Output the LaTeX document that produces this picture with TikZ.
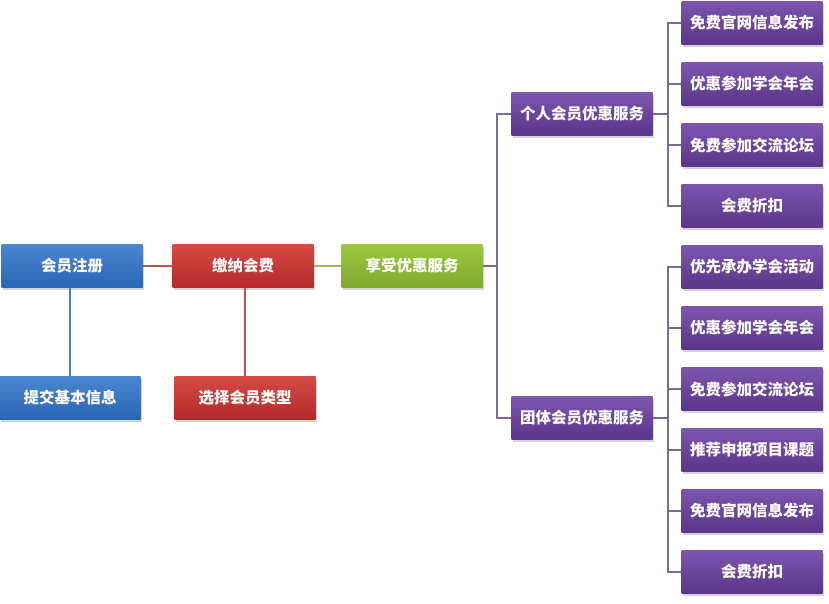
\documentclass[tikz,border=0pt]{standalone}
\usepackage{fontspec}
\setmainfont{Noto Sans CJK SC}
\usepackage[dvipsnames,svgnames,table]{xcolor}
\usepackage{tikz}
\usetikzlibrary{arrows.meta, positioning, shadows, calc}

\definecolor{regblue}{HTML}{2B65B5}
\definecolor{regbluetop}{HTML}{4A86D0}
\definecolor{payred}{HTML}{B42A28}
\definecolor{payredtop}{HTML}{D44A45}
\definecolor{enjoygreen}{HTML}{7FAA2E}
\definecolor{enjoygreentop}{HTML}{9CC63F}
\definecolor{servpurple}{HTML}{5B3589}
\definecolor{servpurpletop}{HTML}{7D55AE}
\definecolor{lineblue}{HTML}{4F81BD}
\definecolor{linered}{HTML}{C0504D}
\definecolor{linegreen}{HTML}{9BBB59}
\definecolor{linepurple}{HTML}{7B6A96}

\begin{document}
\begin{tikzpicture}[
  x=1pt, y=-1pt,
  box/.style={
    minimum width=141pt, minimum height=43pt, inner sep=0pt,
    font=\fontsize{15.5}{18}\selectfont\bfseries, text=white,
    drop shadow={opacity=0.35, shadow xshift=1.5pt, shadow yshift=-2pt}
  },
  blue box/.style={box, top color=regbluetop, bottom color=regblue},
  red box/.style={box, top color=payredtop, bottom color=payred},
  green box/.style={box, top color=enjoygreentop, bottom color=enjoygreen},
  purple box/.style={box, top color=servpurpletop, bottom color=servpurple},
  link/.style={line width=1.3pt}
]
\useasboundingbox (0,0) rectangle (829,603);

% Main flow
\node[blue box] (reg) at (72,266) {会员注册};
\node[red box] (pay) at (243,266) {缴纳会费};
\node[green box] (enjoy) at (412,266) {享受优惠服务};

% Sub steps
\node[blue box] (info) at (70,398) {提交基本信息};
\node[red box] (type) at (245,398) {选择会员类型};

\draw[link, linered] (reg) -- (pay);
\draw[link, linegreen] (pay) -- (enjoy);
\draw[link, lineblue] (reg.south -| info) -- (info);
\draw[link, linered] (pay.south -| type) -- (type);

% Member services
\node[purple box] (single) at (582,114) {个人会员优惠服务};
\node[purple box] (group) at (582,418) {团体会员优惠服务};

\coordinate (hub) at (497,266);
\draw[link, linepurple] (enjoy) -- (hub);
\draw[link, linepurple] (hub) |- (single);
\draw[link, linepurple] (hub) |- (group);

% Individual member items
\node[purple box] (p1) at (752,23) {免费官网信息发布};
\node[purple box] (p2) at (752,84) {优惠参加学会年会};
\node[purple box] (p3) at (752,145) {免费参加交流论坛};
\node[purple box] (p4) at (752,206) {会费折扣};

\coordinate (pbus) at (668,114);
\draw[link, linepurple] (single) -- (pbus);
\foreach \item in {p1,p2,p3,p4}
  \draw[link, linepurple] (pbus) |- (\item);

% Group member items
\node[purple box] (g1) at (752,267) {优先承办学会活动};
\node[purple box] (g2) at (752,328) {优惠参加学会年会};
\node[purple box] (g3) at (752,389) {免费参加交流论坛};
\node[purple box] (g4) at (752,450) {推荐申报项目课题};
\node[purple box] (g5) at (752,511) {免费官网信息发布};
\node[purple box] (g6) at (752,572) {会费折扣};

\coordinate (gbus) at (668,418);
\draw[link, linepurple] (group) -- (gbus);
\foreach \item in {g1,g2,g3,g4,g5,g6}
  \draw[link, linepurple] (gbus) |- (\item);

\end{tikzpicture}
\end{document}
